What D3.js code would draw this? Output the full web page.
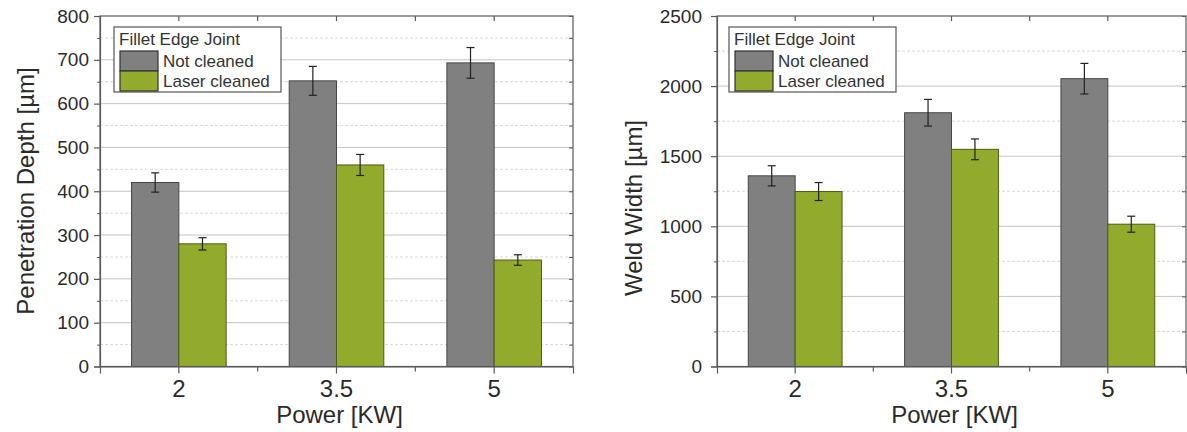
<!DOCTYPE html>
<html>
<head>
<meta charset="utf-8">
<script src="https://cdn.jsdelivr.net/npm/d3@7"></script>
<style>
  html, body { margin: 0; padding: 0; background: #fff; }
  svg { display: block; font-family: "Liberation Sans", Arial, sans-serif; }
</style>
</head>
<body>
<svg id="chart" width="1187" height="432"></svg>
<script>
// ---- data ----
const categories = ["2", "3.5", "5"];
const seriesNames = ["Not cleaned", "Laser cleaned"];
const legendTitle = "Fillet Edge Joint";
const xTitle = "Power [KW]";

const depthNotCleaned = [420, 652, 693];
const depthNotCleanedErr = [22, 33, 35];
const depthLaserCleaned = [280, 460, 243];
const depthLaserCleanedErr = [14, 24, 12];
const depthTicks = [0, 100, 200, 300, 400, 500, 600, 700, 800];
const depthTitle = "Penetration Depth [µm]";

const widthNotCleaned = [1360, 1810, 2053];
const widthNotCleanedErr = [72, 95, 109];
const widthLaserCleaned = [1248, 1549, 1015];
const widthLaserCleanedErr = [64, 74, 57];
const widthTicks = [0, 500, 1000, 1500, 2000, 2500];
const widthTitle = "Weld Width [µm]";

const colors = ["#808080", "#92ab2c"];
const strokes = ["#474747", "#4d5c17"];

const svg = d3.select("#chart");

function drawChart(o) {
  const g = svg.append("g");
  const x = d3.scaleBand().domain(categories).range([o.left, o.right]).padding(0);
  const xs = d3.scaleBand().domain(seriesNames)
    .range([x.bandwidth() * 0.2, x.bandwidth() * 0.8]).padding(0);
  const y = d3.scaleLinear().domain([0, o.ticks[o.ticks.length - 1]]).range([o.bottom, o.top]);

  const step = o.ticks[1] - o.ticks[0];
  const minor = o.ticks.slice(0, -1).map(t => t + step / 2);

  // minor dashed grid
  g.selectAll(".minor").data(minor).join("line")
    .attr("x1", o.left).attr("x2", o.right)
    .attr("y1", d => y(d)).attr("y2", d => y(d))
    .attr("stroke", "#d8d8d8").attr("stroke-width", 1).attr("stroke-dasharray", "3,2");
  // major grid
  g.selectAll(".major").data(o.ticks.slice(1, -1)).join("line")
    .attr("x1", o.left).attr("x2", o.right)
    .attr("y1", d => y(d)).attr("y2", d => y(d))
    .attr("stroke", "#c4c4c4").attr("stroke-width", 1);

  // bars
  const rows = categories.map((c, i) => ({ c, i }));
  o.values.forEach((vals, s) => {
    g.selectAll(".bar" + s).data(rows).join("rect")
      .attr("x", d => x(d.c) + xs(seriesNames[s]))
      .attr("y", d => y(vals[d.i]))
      .attr("width", xs.bandwidth())
      .attr("height", d => y(0) - y(vals[d.i]))
      .attr("fill", colors[s]).attr("stroke", strokes[s]).attr("stroke-width", 1);
  });

  // error bars
  o.values.forEach((vals, s) => {
    const errs = o.errors[s];
    const cx = d => x(d.c) + xs(seriesNames[s]) + xs.bandwidth() / 2;
    const eg = g.selectAll(".err" + s).data(rows).join("g");
    eg.append("line").attr("x1", cx).attr("x2", cx)
      .attr("y1", d => y(vals[d.i] + errs[d.i])).attr("y2", d => y(vals[d.i] - errs[d.i]));
    eg.append("line").attr("x1", d => cx(d) - 4).attr("x2", d => cx(d) + 4)
      .attr("y1", d => y(vals[d.i] + errs[d.i])).attr("y2", d => y(vals[d.i] + errs[d.i]));
    eg.append("line").attr("x1", d => cx(d) - 4).attr("x2", d => cx(d) + 4)
      .attr("y1", d => y(vals[d.i] - errs[d.i])).attr("y2", d => y(vals[d.i] - errs[d.i]));
    eg.selectAll("line").attr("stroke", "#222").attr("stroke-width", 1.2);
  });

  const axisColor = "#5a5a5a";
  // frame
  g.append("rect").attr("x", o.left).attr("y", o.top)
    .attr("width", o.right - o.left).attr("height", o.bottom - o.top)
    .attr("fill", "none").attr("stroke", axisColor).attr("stroke-width", 1.2);

  // left axis
  const yAxis = d3.axisLeft(y).tickValues(o.ticks).tickFormat(d3.format("d"))
    .tickSize(6).tickPadding(o.labelGap);
  const ya = g.append("g").attr("transform", `translate(${o.left},0)`).call(yAxis);
  ya.select(".domain").attr("stroke", axisColor).attr("stroke-width", 1.2);
  ya.selectAll(".tick line").attr("stroke", axisColor).attr("stroke-width", 1.2);
  ya.selectAll(".tick text").attr("font-size", 19).attr("fill", "#2a2a2a")
    .attr("font-family", "Liberation Sans, Arial, sans-serif");
  const yMinor = d3.axisLeft(y).tickValues(minor).tickSize(3).tickFormat("");
  const ym = g.append("g").attr("transform", `translate(${o.left},0)`).call(yMinor);
  ym.select(".domain").remove();
  ym.selectAll(".tick line").attr("stroke", axisColor);

  // right axis ticks (inward)
  const yR = d3.axisLeft(y).tickValues(o.ticks.concat(minor)).tickSize(4).tickFormat("");
  const yr = g.append("g").attr("transform", `translate(${o.right},0)`).call(yR);
  yr.select(".domain").remove();
  yr.selectAll(".tick line").attr("stroke", axisColor);

  // bottom axis
  const xAxis = d3.axisBottom(x).tickSize(7).tickPadding(6);
  const xa = g.append("g").attr("transform", `translate(0,${o.bottom})`).call(xAxis);
  xa.select(".domain").attr("stroke", axisColor).attr("stroke-width", 1.2);
  xa.selectAll(".tick line").attr("stroke", axisColor).attr("stroke-width", 1.2);
  xa.selectAll(".tick text").attr("font-size", 24).attr("fill", "#2a2a2a")
    .attr("font-family", "Liberation Sans, Arial, sans-serif");
  const bounds = categories.slice(0, -1).map(c => x(c) + x.bandwidth());
  g.selectAll(".xminor").data(bounds).join("line")
    .attr("x1", d => d).attr("x2", d => d)
    .attr("y1", o.bottom).attr("y2", o.bottom + 5)
    .attr("stroke", axisColor).attr("stroke-width", 1.2);
  // top ticks inward
  const topTicks = categories.map(c => x(c) + x.bandwidth() / 2).concat(bounds);
  g.selectAll(".xtop").data(topTicks).join("line")
    .attr("x1", d => d).attr("x2", d => d)
    .attr("y1", o.top).attr("y2", o.top + 5)
    .attr("stroke", axisColor).attr("stroke-width", 1.2);

  // axis titles
  g.append("text").attr("x", (o.left + o.right) / 2 + 3).attr("y", 423)
    .attr("text-anchor", "middle").attr("font-size", 24).attr("fill", "#2a2a2a")
    .text(xTitle);
  g.append("text")
    .attr("transform", `translate(${o.titleX},${o.titleY}) rotate(-90)`)
    .attr("text-anchor", "middle").attr("font-size", 24).attr("fill", "#2a2a2a")
    .text(o.title);

  // legend
  const lg = g.append("g").attr("transform", `translate(${o.legendX},${o.legendY})`);
  lg.append("rect").attr("x", 0).attr("y", 0).attr("width", 167).attr("height", 65)
    .attr("fill", "#fff").attr("stroke", "#555").attr("stroke-width", 1.2);
  lg.append("text").attr("x", 5).attr("y", 18).attr("font-size", 17).attr("fill", "#333")
    .text(legendTitle);
  seriesNames.forEach((n, s) => {
    lg.append("rect").attr("x", 6).attr("y", 24 + s * 20).attr("width", 38).attr("height", 20)
      .attr("fill", colors[s]).attr("stroke", "#333").attr("stroke-width", 1.2);
    lg.append("text").attr("x", 49).attr("y", 40 + s * 20).attr("font-size", 17).attr("fill", "#333")
      .text(n);
  });
}

drawChart({
  left: 100, right: 573, top: 16, bottom: 366.5,
  ticks: depthTicks,
  values: [depthNotCleaned, depthLaserCleaned],
  errors: [depthNotCleanedErr, depthLaserCleanedErr],
  title: depthTitle, titleX: 34, titleY: 191,
  labelGap: 5,
  legendX: 114, legendY: 27
});

drawChart({
  left: 717, right: 1186, top: 16, bottom: 366.5,
  ticks: widthTicks,
  values: [widthNotCleaned, widthLaserCleaned],
  errors: [widthNotCleanedErr, widthLaserCleanedErr],
  title: widthTitle, titleX: 642, titleY: 208,
  labelGap: 9,
  legendX: 729, legendY: 27
});
</script>
</body>
</html>
